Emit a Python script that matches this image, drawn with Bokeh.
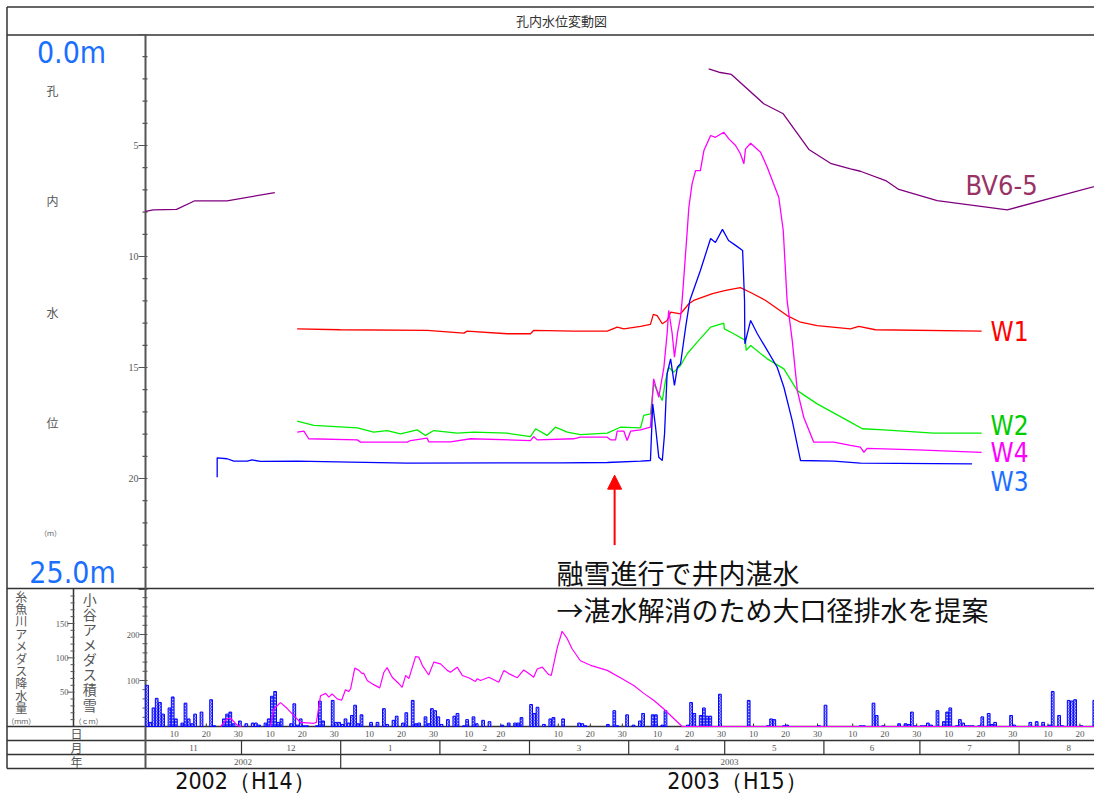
import numpy as np
from bokeh.plotting import figure
from bokeh.models import Range1d, Arrow, NormalHead
from bokeh.core.properties import value
from bokeh.embed import file_html
from bokeh.resources import INLINE

NAN = float("nan")

# ---------------- data ----------------
TITLE = "孔内水位変動図"
MONTH_LABELS = ["11", "12", "1", "2", "3", "4", "5", "6", "7", "8"]
MONTH_DAYS = [30, 31, 31, 28, 31, 30, 31, 30, 31, 31]
YEAR_LABELS = ["2002", "2003"]
YEAR_MONTH_COUNT = [2, 8]
DAY_LABELS = [10, 20, 30]
DEPTH_TICKS = [5, 10, 15, 20]
PRECIP_TICKS = [50, 100, 150]
SNOW_TICKS = [100, 200]
ERA_LABELS = ["2002（H14）", "2003（H15）"]

# day index counted from 2002-11-01, depth in m
BV_DAY = [0, 2.4, 9.7, 15.4, 25.5, 40.4, NAN,
          176.0, 179.2, 183.1, 193.2, 199.3, 207.3, 214.3, 220.3, 223.4, 231.3, 235.4, 247.4, 269.3, 299.5]
BV_DEPTH = [7.97, 7.90, 7.88, 7.49, 7.49, 7.12, NAN,
            1.55, 1.70, 1.80, 3.12, 3.57, 5.18, 5.82, 6.05, 6.16, 6.58, 6.98, 7.48, 7.90, 6.73]

W1_DAY = [47.4, 60.9, 88.0, 99.5, 100.5, 113.0, 120.3, 121.3, 133.8, 144.3, 147.4, 149.5, 154.7, 157.8,
          158.7, 159.9, 161.5, 163.0, 164.1, 167.2, 169.8, 171.3, 177.2, 181.3, 185.9, 189.1, 193.8,
          200.5, 204.7, 209.9, 220.3, 222.9, 228.1, 261.3]
W1_DEPTH = [13.26, 13.30, 13.33, 13.45, 13.36, 13.48, 13.48, 13.33, 13.36, 13.36, 13.18, 13.26, 13.15, 13.06,
            12.61, 12.66, 13.03, 12.88, 12.51, 12.58, 12.13, 11.98, 11.67, 11.53, 11.40, 11.62, 11.98,
            12.66, 12.96, 13.11, 13.26, 13.15, 13.30, 13.36]

W2_DAY = [47.4, 52.6, 66.2, 71.3, 75.5, 79.7, 84.9, 87.5, 90.1, 97.4, 102.6, 113.0, 120.3, 121.9, 125.5,
          128.1, 131.8, 135.9, 144.3, 148.4, 154.7, 155.7, 157.8, 158.8, 159.9, 161.5, 162.5, 163.5, 165.1,
          167.2, 169.3, 172.4, 176.6, 180.7, 180.9, 183.8, 187.5, 187.7, 189.1, 194.3, 199.5, 203.7, 209.9,
          220.3, 224.0, 230.7, 246.3, 261.3]
W2_DEPTH = [17.42, 17.61, 17.72, 17.91, 17.84, 17.99, 17.81, 18.06, 17.84, 17.96, 17.91, 17.96, 18.11, 17.76, 18.06,
            17.69, 17.91, 18.02, 17.96, 17.69, 17.72, 17.16, 17.09, 15.73, 16.04, 16.49, 15.59, 14.99, 15.21,
            14.91, 14.38, 13.86, 13.18, 13.00, 13.26, 13.48, 13.78, 14.23, 14.01, 14.61, 15.06, 16.04, 16.64,
            17.46, 17.76, 17.81, 17.96, 17.96]

W4_DAY = [47.4, 49.5, 51.0, 66.2, 67.2, 81.8, 82.8, 88.0, 88.5, 95.3, 101.6, 120.3, 121.3, 122.4, 133.8,
          135.9, 144.3, 145.3, 146.9, 147.4, 149.5, 150.5, 151.6, 154.7, 157.8, 158.8, 160.4, 162.0, 163.0,
          163.5, 164.6, 165.3, 166.3, 167.2, 167.7, 169.3, 169.8, 170.8, 171.9, 173.4, 174.5, 176.6, 178.1,
          180.7, 182.3, 184.4, 185.9, 187.0, 187.5, 189.1, 192.2, 194.3, 196.3, 197.9, 199.3, 200.5, 202.1,
          203.7, 205.7, 208.8, 215.1, 220.3, 223.4, 224.5, 225.5, 241.2, 261.3]
W4_DEPTH = [17.91, 17.87, 18.21, 18.26, 18.36, 18.36, 18.29, 18.18, 18.35, 18.35, 18.21, 18.29, 18.11, 18.26, 18.21,
            18.14, 18.14, 18.26, 18.26, 17.87, 17.87, 18.29, 17.87, 17.81, 17.69, 15.51, 16.34, 14.99, 13.48,
            12.43, 13.48, 14.54, 13.41, 12.73, 11.98, 8.83, 7.78, 6.73, 6.13, 6.13, 5.23, 4.55, 4.63,
            4.40, 4.70, 5.00, 5.37, 5.82, 5.15, 4.90, 5.30, 5.98, 6.73, 7.33, 8.83, 11.98, 13.78,
            16.04, 17.24, 18.36, 18.36, 18.51, 18.59, 18.82, 18.64, 18.71, 18.82]

W3_DAY = [22.4, 22.4, 25.5, 27.6, 31.8, 33.3, 35.9, 47.4, 64.1, 81.8, 110.9, 129.7, 144.3, 154.7, 157.8,
          158.5, 159.4, 160.4, 161.5, 162.2, 163.0, 164.1, 165.3, 166.2, 167.2, 168.8, 170.1, 173.4, 176.6,
          178.1, 180.3, 182.2, 184.4, 186.6, 187.2, 187.3, 189.1, 191.2, 194.3, 197.4, 199.5, 202.1, 204.7,
          215.1, 220.3, 223.4, 258.3]
W3_DEPTH = [19.94, 19.07, 19.11, 19.22, 19.22, 19.16, 19.23, 19.22, 19.26, 19.31, 19.30, 19.30, 19.28, 19.22, 19.19,
            16.64, 17.69, 19.04, 19.19, 17.99, 15.28, 14.61, 15.81, 14.99, 14.83, 13.18, 11.98, 10.63, 9.19,
            9.37, 8.78, 9.28, 9.50, 9.73, 11.98, 13.93, 12.88, 13.48, 14.23, 14.99, 15.89, 17.39, 19.19,
            19.22, 19.27, 19.31, 19.34]

# daily precipitation (Itoigawa AMeDAS), mm
PRECIP_DAY = [0, 1, 2, 3, 4, 5, 7, 8, 9, 11, 12, 13, 14, 15, 17, 20, 21, 24, 25, 26, 27, 29, 31, 33, 34, 35,
              37, 38, 39, 40, 41, 42, 45, 46, 47, 48, 49, 50, 53, 54, 55, 58, 59, 60, 61, 62, 63, 64, 65,
              66, 67, 70, 72, 74, 75, 77, 78, 80, 81, 83, 84, 85, 87, 88, 89, 90, 91, 92, 94, 96, 97, 99,
              100, 102, 103, 105, 107, 111, 113, 115, 116, 117, 120, 121, 122, 124, 126, 127, 130, 135, 136,
              137, 144, 146, 147, 150, 152, 154, 155, 158, 159, 161, 162, 169, 170, 171, 173, 174, 175, 176,
              179, 188, 194, 195, 196, 199, 200, 210, 212, 223, 224, 227, 228, 230, 235, 237, 238, 239, 240,
              242, 243, 244, 245, 247, 249, 250, 251, 253, 254, 255, 256, 257, 258, 260, 261, 263, 264, 265,
              270, 271, 276, 278, 280, 282, 283, 285, 286, 288, 289, 290, 292, 296, 297, 298, 300]
PRECIP_MM = [60, 6, 27, 41, 35, 18, 27, 43, 11, 5, 34, 11, 4, 18, 21, 39, 1, 11, 18, 21, 4, 8, 4, 5, 5, 2,
             5, 11, 44, 51, 6, 11, 4, 33, 2, 11, 1, 1, 1, 37, 8, 38, 6, 6, 3, 11, 5, 16, 31,
             4, 17, 6, 6, 26, 3, 9, 15, 5, 20, 38, 4, 5, 14, 4, 26, 23, 14, 3, 10, 15, 19, 1,
             10, 14, 4, 9, 7, 2, 5, 5, 5, 13, 32, 19, 28, 3, 11, 13, 11, 5, 4,
             1, 3, 23, 1, 17, 2, 8, 19, 17, 17, 2, 23, 2, 35, 19, 16, 27, 15, 15,
             47, 38, 1, 11, 10, 1, 2, 1, 31, 1, 1, 34, 16, 1, 4, 4, 3, 21, 1,
             1, 1, 5, 2, 23, 7, 21, 27, 1, 10, 5, 1, 1, 1, 1, 14, 19, 3, 6,
             16, 2, 6, 7, 6, 2, 51, 16, 1, 38, 37, 39, 1, 38, 95, 14, 32]

# snow depth (Otari AMeDAS), cm
SNOW_DAY = [23.5, 25.5, 26.6, 28.8, 30, NAN, 39, 40.1, 42.2, 44.3, 46.3, 48.4, 52.6, 53.4, 54.7, 56.3, 57.3, 58.3,
            59.9, 61.3, 62.5, 63.5, 64.1, 65.4, 66.7, 67.7, 68.2, 69.3, 71.3, 73.2, 74.5, 75.5, 77.1, 79.2,
            80.2, 81.3, 82.3, 84.4, 85.4, 86.5, 88.5, 90.1, 92.2, 94.3, 95.3, 97.4, 99.0, 101.0, 103.1,
            103.7, 104.7, 107.3, 110.4, 112.0, 113.5, 116.2, 118.2, 119.8, 121.3, 122.4, 124.0, 126.0,
            126.8, 128.7, 130.2, 131.8, 133.3, 135.9, 139.1, 144.3, 148.4, 152.6, 155.7, 158.8, 162.0,
            164.1, 167.7, 304]
SNOW_CM = [0, 17, 18, 2, 0, NAN, 0, 38, 52, 39, 24, 9, 7, 9, 67, 72, 64, 71,
           60, 57, 80, 76, 82, 127, 122, 115, 116, 100, 91, 84, 118, 128, 107, 93,
           85, 111, 104, 152, 151, 133, 112, 140, 136, 122, 118, 129, 111, 106, 98,
           104, 100, 107, 96, 122, 115, 106, 123, 115, 107, 125, 129, 113,
           111, 172, 207, 191, 169, 143, 133, 122, 106, 89, 72, 57, 38,
           24, 0, 0]

SERIES_LABELS = ["W1", "W2", "W4", "W3", "BV6-5"]
NOTE_LINES = ["融雪進行で井内湛水", "→湛水解消のため大口径排水を提案"]
ARROW_DAY, ARROW_FROM, ARROW_TO = 146.6, 23.0, 19.85

# ---------------- geometry (px, picture coordinates) ----------------
W, H = 1094, 793
X0, PX_DAY = 145.0, 3.2
Y_D0, PX_M = 34.0, 22.2
BASE, PX_MM, PX_CM = 726.0, 103.0 / 150.0, 0.46
X_LEFT, Y_TOP = 6.5, 6.5
Y_TITLE, Y_SPLIT, Y_R1, Y_R2, Y_R3 = 34.5, 588.0, 740.0, 754.0, 768.0
X_PRECIP = 73.0

JP = "Noto Sans CJK JP"
NUM = "Liberation Serif"
COND = "DejaVu Sans Condensed"
FRAME = "#333333"
GRAYTXT = "#555555"

p = figure(width=W, height=H, output_backend="svg", toolbar_location=None, min_border=0,
           x_range=Range1d(-X0 / PX_DAY, (W - X0) / PX_DAY),
           y_range=Range1d((H - Y_D0) / PX_M, -Y_D0 / PX_M),
           x_axis_location=None, y_axis_location=None)
p.grid.visible = False
p.outline_line_color = None
p.background_fill_color = "white"
p.border_fill_color = "white"
p.extra_x_ranges = {"px": Range1d(0, W)}
p.extra_y_ranges = {"py": Range1d(H, 0),
                    "precip": Range1d((BASE - H) / PX_MM, BASE / PX_MM),
                    "snow": Range1d((BASE - H) / PX_CM, BASE / PX_CM)}

def txt(xs, ys, texts, size, color, font, align="center", xr="px", yr="py", baseline="middle"):
    p.text(x=xs, y=ys, text=texts, text_font_size=f"{size}px", text_color=color,
           text_font=value(font), text_align=align, text_baseline=baseline,
           x_range_name=xr, y_range_name=yr)

# ---------------- frame ----------------
hy = [Y_TOP, Y_TITLE, Y_SPLIT, BASE, Y_R1, Y_R2, Y_R3]
p.segment(x0=[X_LEFT] * len(hy), x1=[W] * len(hy), y0=hy, y1=hy, line_color=FRAME, line_width=1.5,
          x_range_name="px", y_range_name="py")
p.segment(x0=[X_LEFT, X_PRECIP], x1=[X_LEFT, X_PRECIP], y0=[Y_TOP, Y_SPLIT], y1=[Y_R3, BASE],
          line_color=FRAME, line_width=1.5, x_range_name="px", y_range_name="py")
p.segment(x0=[X0], x1=[X0], y0=[Y_TITLE], y1=[Y_R3], line_color="#555555", line_width=2,
          x_range_name="px", y_range_name="py")

# month / year separators
starts = np.concatenate([[0], np.cumsum(MONTH_DAYS)])
p.segment(x0=starts[1:-1], x1=starts[1:-1], y0=[Y_R1] * (len(starts) - 2), y1=[Y_R2] * (len(starts) - 2),
          line_color=FRAME, line_width=1.2, y_range_name="py")
ystarts = starts[np.cumsum([0] + YEAR_MONTH_COUNT)]
p.segment(x0=ystarts[1:-1], x1=ystarts[1:-1], y0=[Y_R2] * (len(ystarts) - 2), y1=[Y_R3] * (len(ystarts) - 2),
          line_color=FRAME, line_width=1.2, y_range_name="py")

# day ticks / labels (only those that fall inside the picture)
x_end = (W - X0) / PX_DAY
dx, dl = [], []
for s, n in zip(starts[:-1], MONTH_DAYS):
    for d in DAY_LABELS:
        if d <= n:
            dx.append(s + d - 1)
            dl.append(str(d))
p.segment(x0=dx, x1=dx, y0=[BASE - 3] * len(dx), y1=[BASE] * len(dx), line_color=FRAME, line_width=1,
          y_range_name="py")
vis = [i for i, v in enumerate(dx) if v < x_end - 2.5]
txt([dx[i] for i in vis], [733] * len(vis), [dl[i] for i in vis], 9, GRAYTXT, NUM, xr="default")
mc = [(a + b) / 2 for a, b in zip(starts[:-1], starts[1:])]
txt(mc, [747] * len(mc), MONTH_LABELS, 9, GRAYTXT, NUM, xr="default")
yc = [(a + b) / 2 for a, b in zip(ystarts[:-1], ystarts[1:])]
txt(yc, [761] * len(yc), YEAR_LABELS, 9, GRAYTXT, NUM, xr="default")
txt([76, 76, 76], [733, 747, 761], ["日", "月", "年"], 12, GRAYTXT, JP)

# ---------------- depth axis ----------------
allm = list(range(0, 26))
minor = [m for m in allm if m % 5]
major = [m for m in allm if m % 5 == 0]
p.segment(x0=[X0 - 3] * len(minor), x1=[X0 + 2] * len(minor), y0=minor, y1=minor,
          line_color="#555555", line_width=1.2, x_range_name="px")
p.segment(x0=[X0 - 7] * len(major), x1=[X0 + 2] * len(major), y0=major, y1=major,
          line_color="#555555", line_width=1.2, x_range_name="px")
txt([X0 - 7] * len(DEPTH_TICKS), DEPTH_TICKS, [str(t) for t in DEPTH_TICKS], 10, GRAYTXT, NUM,
    align="right", yr="default")

# ---------------- lower panel axes ----------------
pt = list(range(10, 201, 10))
pmin = [t for t in pt if t % 50]
p.segment(x0=[X_PRECIP - 3] * len(pmin), x1=[X_PRECIP + 1] * len(pmin), y0=pmin, y1=pmin,
          line_color="#555555", line_width=1, x_range_name="px", y_range_name="precip")
p.segment(x0=[X_PRECIP - 6] * len(PRECIP_TICKS), x1=[X_PRECIP + 1] * len(PRECIP_TICKS), y0=PRECIP_TICKS,
          y1=PRECIP_TICKS, line_color="#555555", line_width=1, x_range_name="px", y_range_name="precip")
txt([X_PRECIP - 5] * len(PRECIP_TICKS), PRECIP_TICKS, [str(t) for t in PRECIP_TICKS], 8.5, GRAYTXT, NUM,
    align="right", yr="precip")
st = list(range(20, 301, 20))
smin = [t for t in st if t % 100]
p.segment(x0=[X0 - 3] * len(smin), x1=[X0 + 2] * len(smin), y0=smin, y1=smin,
          line_color="#555555", line_width=1, x_range_name="px", y_range_name="snow")
p.segment(x0=[X0 - 6] * len(SNOW_TICKS), x1=[X0 + 2] * len(SNOW_TICKS), y0=SNOW_TICKS, y1=SNOW_TICKS,
          line_color="#555555", line_width=1, x_range_name="px", y_range_name="snow")
txt([X0 - 6] * len(SNOW_TICKS), SNOW_TICKS, [str(t) for t in SNOW_TICKS], 8.5, GRAYTXT, NUM,
    align="right", yr="snow")

# ---------------- left labels ----------------
txt([561], [20], [TITLE], 13, "#333333", JP)
txt([71], [52], ["0.0m"], 30, "#1a6fff", COND)
txt([72], [572], ["25.0m"], 30, "#1a6fff", COND)
txt([52] * 4, [90, 200, 312, 422], list("孔内水位"), 12, GRAYTXT, JP)
txt([50], [532], ["（ｍ）"], 7, GRAYTXT, JP)
c1 = list("糸魚川アメダス降水量")
txt([20.7] * len(c1), [595.5 + 12.4 * i for i in range(len(c1))], c1, 12, GRAYTXT, JP)
txt([20.7], [720], ["（ｍｍ）"], 7, GRAYTXT, JP)
c2 = list("小谷アメダス積雪")
txt([89.3] * len(c2), [598.3 + 15.1 * i for i in range(len(c2))], c2, 14, GRAYTXT, JP)
txt([88], [720], ["（ｃｍ）"], 7, GRAYTXT, JP)

# ---------------- precipitation & snow ----------------
p.vbar(x=[d + 0.5 for d in PRECIP_DAY], top=PRECIP_MM, bottom=0, width=0.85, y_range_name="precip",
       fill_color="#b8b8ff", line_color="#0000ff", line_width=1,
       hatch_pattern="x", hatch_color="#2020ff", hatch_scale=3, hatch_weight=0.7)
p.line(SNOW_DAY, SNOW_CM, y_range_name="snow", line_color="#ff00ff", line_width=1.2)

# ---------------- water level series ----------------
p.line(BV_DAY, BV_DEPTH, line_color="#800080", line_width=1.3)
p.line(W1_DAY, W1_DEPTH, line_color="#ff0000", line_width=1.3)
p.line(W2_DAY, W2_DEPTH, line_color="#00ee00", line_width=1.3)
p.line(W4_DAY, W4_DEPTH, line_color="#ff00ff", line_width=1.3)
p.line(W3_DAY, W3_DEPTH, line_color="#0000ff", line_width=1.3)

txt([990] * 4, [331, 425, 452, 481], SERIES_LABELS[:4], 26, ["#ff0000", "#00cc00", "#ff00ff", "#1a6fff"],
    COND, align="left")
txt([965], [185], [SERIES_LABELS[4]], 27, "#993366", COND, align="left")

# ---------------- annotation ----------------
p.add_layout(Arrow(end=NormalHead(size=14, fill_color="#ff0000", line_color="#ff0000"),
                   x_start=ARROW_DAY, y_start=ARROW_FROM, x_end=ARROW_DAY, y_end=ARROW_TO,
                   line_color="#ff0000", line_width=2))
txt([556, 556], [572, 609], NOTE_LINES, 27, "#111111", JP, align="left")
txt([245, 737], [780, 780], ERA_LABELS, 23, "#111111", COND)

open("out.html", "w").write(file_html(p, INLINE))
